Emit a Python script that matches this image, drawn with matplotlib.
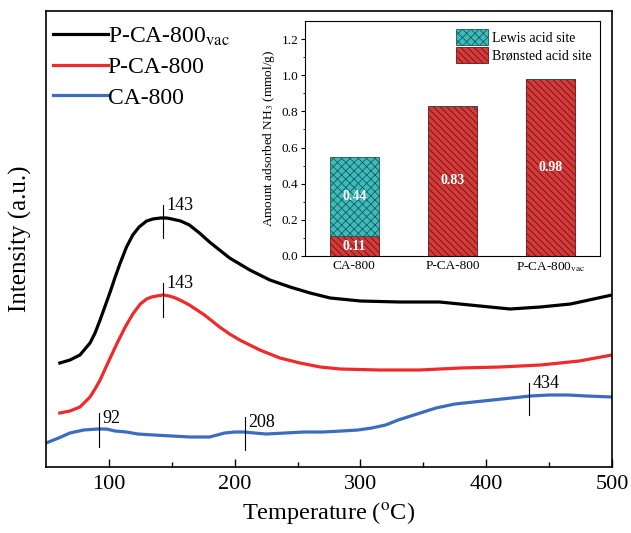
import matplotlib.pyplot as plt
import numpy as np

plt.switch_backend("agg")
plt.rcParams["font.family"] = ["Liberation Serif", "DejaVu Serif"]
plt.rcParams["mathtext.fontset"] = "stix"
plt.rcParams["hatch.linewidth"] = 0.6

# TPD curves (temperature in degC, intensity in arbitrary units)
t_vac = [61, 69, 77, 85, 89, 93, 97, 101, 105, 109, 114, 119, 124, 130, 135, 141,
         146, 150, 157, 164, 172, 180, 188, 196, 204, 212, 220, 228, 244, 260, 276,
         300, 331, 363, 395, 419, 443, 467, 500]
i_vac = [104, 107, 112, 124, 134, 147, 161, 175, 190, 204, 220, 232, 240, 246, 248, 249,
         249, 248, 246, 242, 234, 225, 217, 209, 203, 197, 192, 187, 180, 174, 169,
         166, 165, 165, 161, 158, 160, 163, 172]

t_p = [61, 69, 77, 85, 89, 93, 97, 101, 107, 113, 119, 125, 130, 134, 138, 143, 148,
       153, 158, 164, 170, 176, 182, 188, 196, 204, 212, 220, 236, 252, 268, 284, 315,
       347, 379, 411, 443, 474, 500]
i_p = [54, 56, 60, 70, 78, 87, 98, 109, 125, 140, 153, 163, 168, 170, 171, 172, 171,
       169, 166, 162, 157, 152, 146, 140, 133, 127, 122, 117, 109, 104, 100, 98, 97,
       97, 99, 100, 102, 106, 112]

t_ca = [50, 60, 69, 80, 91, 98, 105, 114, 123, 136, 150, 165, 180, 186, 192, 200, 207,
        216, 225, 240, 255, 270, 285, 298, 309, 320, 330, 345, 360, 375, 390, 405, 420,
        435, 450, 465, 480, 500]
i_ca = [24, 29, 34, 37, 38, 38, 36, 35, 33, 32, 31, 30, 30, 32, 34, 35, 35, 34, 33,
        34, 35, 35, 36, 37, 39, 42, 47, 53, 59, 63, 65, 67, 69, 71, 72, 72, 71, 70]

# peak marks: (temperature, tick bottom, tick top, label baseline)
peaks_vac = [(143, 229, 262, 257)]
peaks_p = [(143, 150, 184, 179)]
peaks_ca = [(92, 20, 54, 44), (208, 17, 50, 40), (434, 52, 84, 79)]

# inset bar data
samples = ["CA-800", "P-CA-800", "P-CA-800$_{\\rm vac}$"]
bronsted = [0.11, 0.83, 0.98]
lewis = [0.44, 0.0, 0.0]

fig = plt.figure(figsize=(6.31, 5.33), dpi=100)
ax = fig.add_axes([0.0729, 0.1238, 0.897, 0.8556])

ax.plot(t_vac, i_vac, color="black", lw=2.3, label="P-CA-800$_{\\rm vac}$")
ax.plot(t_p, i_p, color="#f02a2a", lw=2.3, label="P-CA-800")
ax.plot(t_ca, i_ca, color="#3b6cc2", lw=2.3, label="CA-800")

for t, y0, y1, yl in peaks_vac + peaks_p + peaks_ca:
    ax.plot([t, t], [y0, y1], color="black", lw=0.8)
    ax.text(t + 3, yl, str(t), fontsize=13, va="baseline", ha="left")

ax.set_xlim(50, 500)
ax.set_ylim(0, 456)
ax.set_xticks([100, 200, 300, 400, 500])
ax.set_xticks([150, 250, 350, 450], minor=True)
ax.tick_params(axis="x", which="major", direction="in", length=6, width=1,
               labelsize=16, pad=6)
ax.tick_params(axis="x", which="minor", direction="in", length=3.5, width=1)
ax.set_yticks([])
for s in ax.spines.values():
    s.set_linewidth(1.2)
ax.set_xlabel("Temperature ($^{\\rm o}$C)", fontsize=17.5, labelpad=4)
ax.set_ylabel("Intensity (a.u.)", fontsize=18, labelpad=10)

ax.legend(loc="upper left", bbox_to_anchor=(-0.016, 1.005), frameon=False,
          fontsize=17, handlelength=2.3, handletextpad=0.0,
          labelspacing=0.38, borderaxespad=0.3)

# inset
ins = fig.add_axes([0.4834, 0.5197, 0.4675, 0.4409])
x = np.arange(len(samples))
ins.bar(x, bronsted, width=0.5, color="#d43a3a", edgecolor="#6a1414",
        hatch="\\\\\\\\\\", lw=0.6, label="Brønsted acid site")
ins.bar(x, lewis, width=0.5, bottom=bronsted, color="#3cbcbc",
        edgecolor="#1c5a5a", hatch="xxxx", lw=0.6, label="Lewis acid site")
for xi, b, l in zip(x, bronsted, lewis):
    ins.text(xi, b / 2, f"{b:.2f}", color="white", fontsize=10, fontweight="bold",
             ha="center", va="center")
    if l > 0:
        ins.text(xi, b + l / 2, f"{l:.2f}", color="white", fontsize=10,
                 fontweight="bold", ha="center", va="center")

ins.set_xlim(-0.5, 2.5)
ins.set_ylim(0, 1.3)
ins.set_xticks(x)
ins.set_xticklabels(samples)
ins.set_yticks(np.arange(0, 1.21, 0.2))
ins.set_yticks(np.arange(0.1, 1.3, 0.2), minor=True)
ins.tick_params(axis="x", length=0, labelsize=9.5, pad=3)
ins.tick_params(axis="y", which="major", direction="out", length=3, labelsize=9.5, pad=2)
ins.tick_params(axis="y", which="minor", direction="out", length=1.8)
ins.set_ylabel("Amount adsorbed NH$_3$ (mmol/g)", fontsize=9.5, labelpad=3)
for s in ins.spines.values():
    s.set_linewidth(0.8)

handles, labels = ins.get_legend_handles_labels()
ins.legend(handles[::-1], labels[::-1], loc="upper right", frameon=False,
           fontsize=10, handlelength=2.3, handleheight=1.4, handletextpad=0.3,
           labelspacing=0.1, borderaxespad=0.2)

fig.savefig("out.png", dpi=100)
